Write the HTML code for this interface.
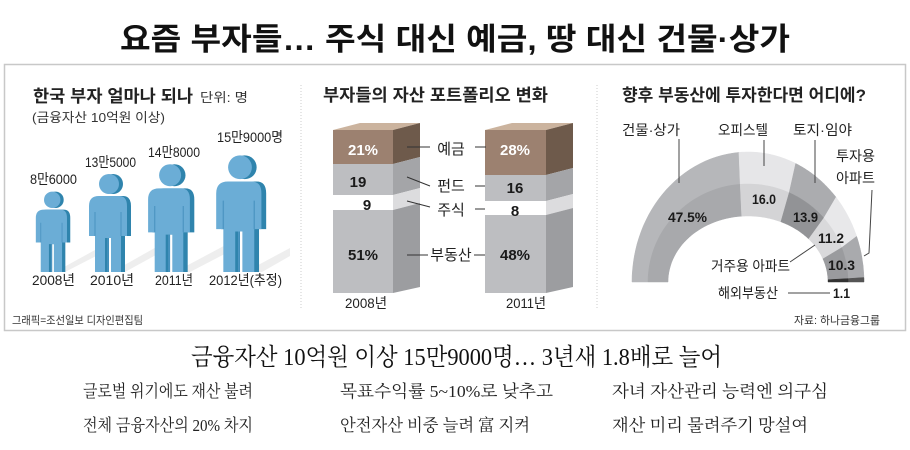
<!DOCTYPE html>
<html><head><meta charset="utf-8"><style>
html,body{margin:0;padding:0;background:#fff;}
svg{display:block;}
.s{font-family:"Liberation Sans","Noto Sans CJK KR",sans-serif;}
.r{font-family:"Liberation Serif","Noto Serif CJK SC",serif;}
</style></head><body>
<svg id="sv" width="910" height="450" viewBox="0 0 910 450" xmlns="http://www.w3.org/2000/svg">
<defs>
<g id="man">
<circle cx="25" cy="12" r="10" fill="#2f84ad"/>
<path d="M5,34 Q5,24 15,24 L35,24 Q43,24 43,34 L43,64 L37,64 L37,100 L27,100 L27,66 L21,66 L21,100 L11,100 L11,64 L5,64 Z" fill="#2f84ad"/>
<circle cx="21" cy="12" r="10" fill="#6badd6"/>
<path d="M1,34 Q1,24 11,24 L31,24 Q39,24 39,34 L39,64 L33,64 L33,100 L23,100 L23,66 L17,66 L17,100 L7,100 L7,64 L1,64 Z" fill="#6badd6"/>
<path d="M7,40 L7,64 M33,40 L33,64 M20,66 L20,100" stroke="#4f97c4" stroke-width="1.2" fill="none"/>
</g>
</defs>
<text x="455" y="50" text-anchor="middle" class="s" font-size="31" font-weight="bold" fill="#111" textLength="670" lengthAdjust="spacingAndGlyphs">요즘 부자들… 주식 대신 예금, 땅 대신 건물·상가</text>
<rect x="4.5" y="64.5" width="901" height="266" fill="none" stroke="#c8c8c8" stroke-width="1.5"/>
<line x1="301" y1="85" x2="301" y2="310" stroke="#ccc" stroke-dasharray="1,2"/>
<line x1="597" y1="85" x2="597" y2="310" stroke="#ccc" stroke-dasharray="1,2"/>

<text x="33" y="102" class="s" font-size="17" font-weight="bold" fill="#222" textLength="160" lengthAdjust="spacingAndGlyphs">한국 부자 얼마나 되나</text>
<text x="200" y="102" class="s" font-size="13" fill="#333" textLength="48" lengthAdjust="spacingAndGlyphs">단위: 명</text>
<text x="32" y="122" class="s" font-size="13" fill="#333" textLength="133" lengthAdjust="spacingAndGlyphs">(금융자산 10억원 이상)</text>
<g fill="#eee"><path d="M55,272 L95,250 L100,254 L65,272Z"/><path d="M112,272 L160,245 L165,250 L125,272Z"/><path d="M175,272 L235,240 L240,246 L190,272Z"/><path d="M245,272 L290,248 L290,256 L262,272Z"/></g>
<use href="#man" transform="translate(35,190) scale(0.82)"/>
<use href="#man" transform="translate(88,172) scale(1.0)"/>
<use href="#man" transform="translate(147,162) scale(1.1)"/>
<use href="#man" transform="translate(215,153) scale(1.19)"/>
<g class="s" font-size="14" fill="#222">
<text x="30" y="184" textLength="47" lengthAdjust="spacingAndGlyphs">8만6000</text>
<text x="85" y="167" textLength="51" lengthAdjust="spacingAndGlyphs">13만5000</text>
<text x="148" y="157" textLength="52" lengthAdjust="spacingAndGlyphs">14만8000</text>
<text x="217" y="142" textLength="66" lengthAdjust="spacingAndGlyphs">15만9000명</text>
<text x="32" y="285" textLength="43" lengthAdjust="spacingAndGlyphs">2008년</text>
<text x="90" y="285" textLength="44" lengthAdjust="spacingAndGlyphs">2010년</text>
<text x="155" y="285" textLength="38" lengthAdjust="spacingAndGlyphs">2011년</text>
<text x="209" y="285" textLength="73" lengthAdjust="spacingAndGlyphs">2012년(추정)</text>
</g>
<text x="12" y="324" class="s" font-size="11" fill="#333" textLength="131" lengthAdjust="spacingAndGlyphs">그래픽=조선일보 디자인편집팀</text>

<text x="323" y="101" class="s" font-size="17" font-weight="bold" fill="#222" textLength="225" lengthAdjust="spacingAndGlyphs">부자들의 자산 포트폴리오 변화</text>
<polygon points="333,130 360,123 420,123 393,130" fill="#cbb39e"/>
<rect x="333" y="130" width="60" height="34" fill="#9c8170"/><polygon points="393,130 420,123 420,157 393,164" fill="#6e5a4b"/>
<rect x="333" y="164" width="60" height="31" fill="#bdbec1"/><polygon points="393,164 420,157 420,188 393,195" fill="#a4a5a8"/>
<rect x="333" y="195" width="60" height="15" fill="#fff"/><polygon points="393,195 420,188 420,203 393,210" fill="#dcdcde"/>
<rect x="333" y="210" width="60" height="83" fill="#bdbec1"/><polygon points="393,210 420,203 420,287 393,293" fill="#9c9da0"/>
<polygon points="485,130 512,123 573,123 546,130" fill="#cbb39e"/>
<rect x="485" y="130" width="61" height="45" fill="#9c8170"/><polygon points="546,130 573,123 573,168 546,175" fill="#6e5a4b"/>
<rect x="485" y="175" width="61" height="26" fill="#bdbec1"/><polygon points="546,175 573,168 573,194 546,201" fill="#a4a5a8"/>
<rect x="485" y="201" width="61" height="14" fill="#fff"/><polygon points="546,201 573,194 573,208 546,215" fill="#dcdcde"/>
<rect x="485" y="215" width="61" height="78" fill="#bdbec1"/><polygon points="546,215 573,208 573,287 546,293" fill="#9c9da0"/>
<g stroke="#333" stroke-width="1" fill="none">
<path d="M407,147 L430,147 M475,147 L486,147"/>
<path d="M407,177 L430,186 M475,186 L485,186"/>
<path d="M407,201 L430,207 M475,209 L485,209"/>
<path d="M407,255 L428,255 M474,255 L485,255"/>
</g>
<g class="s" font-size="15" fill="#1a1a1a" text-anchor="middle" font-weight="bold">
<text x="363" y="155" fill="#fff">21%</text>
<text x="358" y="187">19</text>
<text x="367" y="210">9</text>
<text x="363" y="260">51%</text>
<text x="515" y="155" fill="#fff">28%</text>
<text x="515" y="193">16</text>
<text x="515" y="216">8</text>
<text x="515" y="260">48%</text>
</g>
<g class="s" font-size="15" fill="#222" text-anchor="middle">
<text x="451" y="154">예금</text>
<text x="451" y="191">펀드</text>
<text x="451" y="215">주식</text>
<text x="451" y="260">부동산</text>
</g>
<g class="s" font-size="14" fill="#222">
<text x="345" y="308" textLength="42" lengthAdjust="spacingAndGlyphs">2008년</text>
<text x="506" y="308" textLength="40" lengthAdjust="spacingAndGlyphs">2011년</text>
</g>

<text x="622" y="101" class="s" font-size="17" font-weight="bold" fill="#222" textLength="244" lengthAdjust="spacingAndGlyphs">향후 부동산에 투자한다면 어디에?</text>
<g id="donut"></g>
<g stroke="#444" stroke-width="1" fill="none">
<path d="M679,139 L679,183"/>
<path d="M764,140 L764,166"/>
<path d="M815,140 L815,183"/>
<path d="M872,190 L869,253 L864,256"/>
<path d="M790,262 L815,245"/>
<path d="M788,293 L830,293"/>
</g>
<g class="s" font-size="14" fill="#222">
<text x="622" y="135" textLength="58" lengthAdjust="spacingAndGlyphs">건물·상가</text>
<text x="718" y="135" textLength="50" lengthAdjust="spacingAndGlyphs">오피스텔</text>
<text x="793" y="135" textLength="59" lengthAdjust="spacingAndGlyphs">토지·임야</text>
<text x="836" y="161" textLength="39" lengthAdjust="spacingAndGlyphs">투자용</text>
<text x="836" y="183" textLength="39" lengthAdjust="spacingAndGlyphs">아파트</text>
<text x="711" y="271" textLength="79" lengthAdjust="spacingAndGlyphs">거주용 아파트</text>
<text x="718" y="298" textLength="60" lengthAdjust="spacingAndGlyphs">해외부동산</text>
</g>
<g class="s" font-size="14" fill="#1a1a1a" font-weight="bold">
<text x="668" y="222" textLength="39" lengthAdjust="spacingAndGlyphs">47.5%</text>
<text x="752" y="204" textLength="24" lengthAdjust="spacingAndGlyphs">16.0</text>
<text x="793" y="222" textLength="25" lengthAdjust="spacingAndGlyphs">13.9</text>
<text x="818" y="243" textLength="26" lengthAdjust="spacingAndGlyphs">11.2</text>
<text x="828" y="270" textLength="27" lengthAdjust="spacingAndGlyphs">10.3</text>
<text x="833" y="298" textLength="17" lengthAdjust="spacingAndGlyphs">1.1</text>
</g>
<text x="794" y="324" class="s" font-size="11" fill="#333" textLength="86" lengthAdjust="spacingAndGlyphs">자료: 하나금융그룹</text>

<text x="191" y="365" class="r" font-size="24" fill="#111" textLength="531" lengthAdjust="spacingAndGlyphs">금융자산 10억원 이상 15만9000명… 3년새 1.8배로 늘어</text>
<g class="r" font-size="17" fill="#222">
<text x="83" y="397" textLength="170" lengthAdjust="spacingAndGlyphs">글로벌 위기에도 재산 불려</text>
<text x="83" y="431" textLength="170" lengthAdjust="spacingAndGlyphs">전체 금융자산의 20% 차지</text>
<text x="340" y="397" textLength="213" lengthAdjust="spacingAndGlyphs">목표수익률 5~10%로 낮추고</text>
<text x="340" y="431" textLength="190" lengthAdjust="spacingAndGlyphs">안전자산 비중 늘려 富 지켜</text>
<text x="612" y="397" textLength="216" lengthAdjust="spacingAndGlyphs">자녀 자산관리 능력엔 의구심</text>
<text x="612" y="431" textLength="196" lengthAdjust="spacingAndGlyphs">재산 미리 물려주기 망설여</text>
</g>
</svg>
<script>
(function(){
var g=document.getElementById('donut');
var cx=748,cy=282;
var R=[[116,130],[100,98],[80,66]];
var vals=[47.5,16.0,13.9,11.2,10.3,1.1];
var outerC=['#b6b7ba','#e6e6e8','#abacaf','#e8e8ea','#a9aaad','#555'];
var innerC=['#a8a9ac','#d4d4d6','#929396','#d9d9db','#9a9b9e','#333'];
function pt(r,a){var t=a*Math.PI/180;return (cx+r[0]*Math.cos(t)).toFixed(1)+','+(cy-r[1]*Math.sin(t)).toFixed(1);}
function band(a0,a1,ro,ri,col){
  var p=[],n=30,i;
  for(i=0;i<=n;i++)p.push(pt(ro,a0+(a1-a0)*i/n));
  for(i=n;i>=0;i--)p.push(pt(ri,a0+(a1-a0)*i/n));
  var e=document.createElementNS('http://www.w3.org/2000/svg','polygon');
  e.setAttribute('points',p.join(' '));e.setAttribute('fill',col);
  e.setAttribute('stroke',col);e.setAttribute('stroke-width','0.5');
  g.appendChild(e);
}
var a=180;
for(var k=0;k<vals.length;k++){
  var b=a-vals[k]*1.8;
  band(a,b,R[0],R[1],outerC[k]);
  band(a,b,R[1],R[2],innerC[k]);
  a=b;
}
})();
</script>
</body></html>
